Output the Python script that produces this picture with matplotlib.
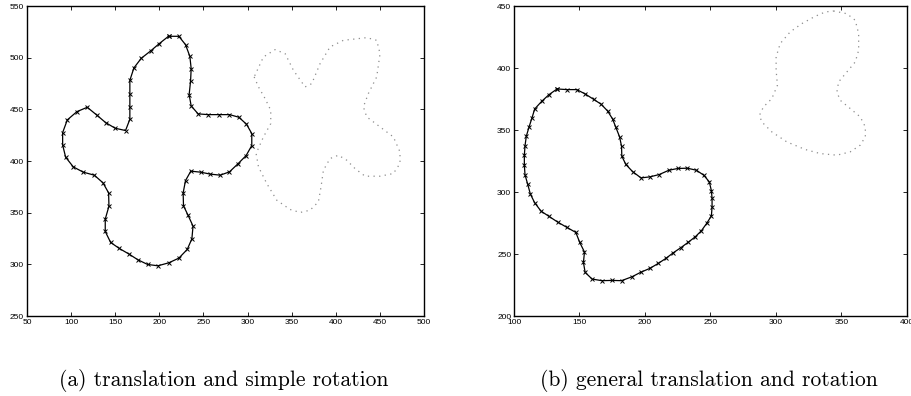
import matplotlib
matplotlib.use("Agg")
import matplotlib.pyplot as plt

# --- (a) исходный контур (крестообразная фигура) и её повернутая копия ---
a_x = [210.4, 222.1, 229.7, 234.6, 236.1, 235.4, 233.8, 236.1, 244.0, 255.4,
       267.4, 279.5, 290.1, 298.8, 304.8, 304.8, 298.4, 289.0, 279.5, 269.0,
       258.0, 246.7, 235.7, 229.7, 227.0, 227.4, 232.7, 238.2, 236.9, 231.6,
       222.1, 210.8, 198.4, 186.7, 175.7, 165.7, 154.6, 144.8, 138.7, 138.7,
       142.9, 142.5, 136.1, 126.3, 113.8, 102.5, 93.8, 90.4, 90.4, 95.7,
       106.6, 118.3, 128.9, 139.1, 150.0, 161.7, 166.6, 166.6, 166.6, 166.6,
       171.2, 179.5, 190.1, 199.9, 210.4]
a_y = [520.7, 520.7, 512.6, 501.3, 489.4, 477.2, 464.3, 453.3, 445.6, 444.9,
       444.9, 444.9, 442.4, 435.6, 426.6, 415.0, 405.3, 397.2, 389.5, 386.3,
       387.3, 389.2, 390.2, 381.1, 369.2, 356.6, 347.3, 337.0, 324.7, 314.4,
       306.0, 301.5, 298.6, 299.9, 304.4, 309.9, 315.4, 321.2, 331.8, 343.8,
       356.3, 369.2, 378.9, 386.3, 389.2, 394.3, 403.7, 415.6, 427.5, 439.8,
       447.8, 452.0, 444.6, 437.2, 431.7, 429.5, 440.4, 452.4, 465.2, 478.1,
       490.1, 499.4, 506.5, 513.6, 520.7]

a_dot_x = [307.5, 312.4, 319.9, 326.3, 326.3, 318.0, 309.7, 312.4, 321.8, 333.1,
           348.2, 359.6, 370.9, 380.3, 383.3, 386.0, 393.5, 403.0, 412.4, 421.8,
           433.2, 450.2, 465.3, 472.8, 472.8, 465.3, 450.2, 435.1, 431.3, 436.9,
           446.4, 450.2, 446.4, 435.1, 408.6, 393.5, 382.2, 372.8, 365.2, 352.0,
           342.6, 331.2, 318.0, 307.5]
a_dot_y = [481.4, 471.7, 460.4, 449.1, 436.2, 423.3, 407.2, 394.3, 378.2, 362.1,
           353.1, 350.2, 352.4, 360.5, 375.0, 391.1, 402.4, 405.6, 400.8, 392.7,
           385.3, 385.3, 387.9, 397.6, 408.8, 423.3, 433.0, 442.7, 452.4, 465.2,
           481.4, 503.9, 516.8, 519.4, 516.8, 510.4, 494.2, 474.9, 471.7, 487.8,
           503.9, 507.8, 500.7, 481.4]

# --- (b) контур в форме сердца и его смещённая/повернутая копия ---
b_x = [132.9, 140.5, 147.9, 154.3, 160.7, 166.5, 171.4, 175.2, 177.7, 180.6,
       182.1, 182.3, 185.4, 190.5, 196.9, 203.7, 210.9, 218.3, 225.2, 232.3,
       239.2, 244.8, 249.1, 250.7, 251.2, 251.2, 250.7, 247.1, 243.0, 238.4,
       232.8, 227.2, 221.6, 216.0, 210.1, 203.7, 196.6, 190.2, 182.1, 174.7,
       167.0, 159.6, 154.3, 153.0, 153.8, 150.2, 147.2, 140.5, 133.4, 126.8,
       120.6, 115.8, 112.5, 110.5, 108.4, 107.9, 107.9, 108.4, 109.4, 111.5,
       113.8, 115.8, 121.2, 126.8, 132.9]
b_y = [383.1, 382.6, 382.6, 379.1, 374.8, 370.8, 365.4, 359.0, 352.3, 344.5,
       336.9, 328.9, 322.2, 316.5, 311.4, 312.2, 314.1, 317.6, 319.0, 319.2,
       317.6, 313.6, 308.2, 301.0, 294.8, 288.1, 280.8, 274.7, 268.7, 263.9,
       259.3, 255.0, 251.0, 246.5, 242.4, 238.4, 235.2, 231.7, 228.5, 228.7,
       228.5, 229.8, 235.2, 243.2, 251.6, 259.3, 267.4, 271.4, 275.7, 280.3,
       284.6, 291.3, 298.3, 306.1, 313.9, 321.6, 329.7, 337.2, 345.0, 352.5,
       360.0, 367.0, 373.2, 378.6, 383.1]

b_dot_x = [343.9, 354.1, 360.5, 363.1, 363.1, 360.5, 354.1, 347.8, 346.5, 349.0,
           356.7, 364.3, 368.2, 368.2, 364.3, 356.7, 346.5, 333.8, 322.3, 308.3,
           296.8, 289.1, 287.4, 290.4, 296.8, 301.1, 300.1, 300.1, 303.2, 310.8,
           319.7, 329.9, 337.6, 343.9]
b_dot_y = [446.0, 443.8, 438.5, 427.7, 414.3, 404.9, 396.8, 388.8, 380.7, 374.0,
           367.3, 360.6, 352.5, 344.5, 337.8, 332.4, 329.7, 331.0, 334.3, 340.4,
           348.5, 356.6, 361.9, 368.6, 375.3, 386.1, 398.2, 408.9, 419.7, 429.1,
           435.8, 441.7, 445.2, 446.0]

a_xticks = list(range(50, 501, 50))
a_yticks = list(range(250, 551, 50))
b_xticks = list(range(100, 401, 50))
b_yticks = list(range(200, 451, 50))

captions = ["(a) translation and simple rotation",
            "(b) general translation and rotation"]


def setup_axes(ax, xlim, ylim, xt, yt):
    ax.set_xlim(*xlim)
    ax.set_ylim(*ylim)
    ax.set_xticks(xt)
    ax.set_yticks(yt)
    ax.tick_params(direction='in', length=3, width=0.6, labelsize=6,
                   top=True, right=True, pad=2)
    for lbl in ax.get_xticklabels() + ax.get_yticklabels():
        lbl.set_fontfamily('Liberation Sans')
    for s in ax.spines.values():
        s.set_linewidth(1.0)


fig = plt.figure(figsize=(9.12, 3.96), dpi=100)
ax1 = fig.add_axes([0.0296, 0.202, 0.4353, 0.7828])
ax2 = fig.add_axes([0.5636, 0.202, 0.4309, 0.7828])

dots = (0, (1, 3.5))

ax1.plot(a_x, a_y, '-', color='black', linewidth=0.9,
         marker='x', markersize=3.5, markeredgewidth=0.7)
ax1.plot(a_dot_x, a_dot_y, linestyle=dots, color='0.55', linewidth=0.9)
setup_axes(ax1, (50, 500), (250, 550), a_xticks, a_yticks)

ax2.plot(b_x, b_y, '-', color='black', linewidth=0.9,
         marker='x', markersize=3.5, markeredgewidth=0.7)
ax2.plot(b_dot_x, b_dot_y, linestyle=dots, color='0.55', linewidth=0.9)
setup_axes(ax2, (100, 400), (200, 450), b_xticks, b_yticks)

# подписи под графиками
fig.text(0.2458, 1 - 381 / 396, captions[0], ha='center', va='center',
         fontfamily='cmr10', fontsize=15.5)
fig.text(0.7778, 1 - 381 / 396, captions[1], ha='center', va='center',
         fontfamily='cmr10', fontsize=15.5)

fig.savefig('out.png', dpi=100)
